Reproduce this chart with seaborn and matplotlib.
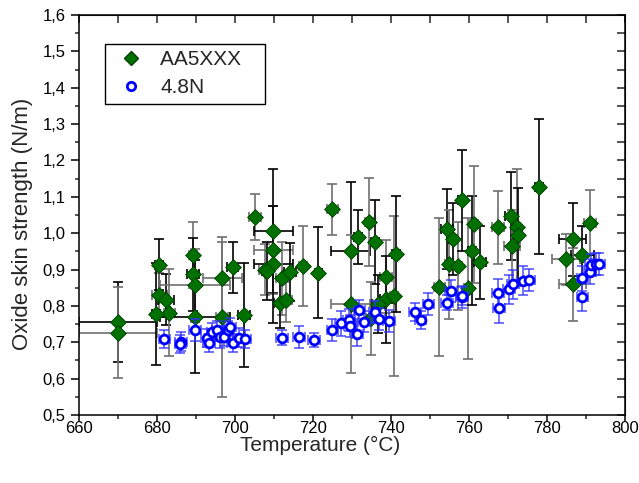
import numpy as np
import matplotlib
matplotlib.use('Agg')
import matplotlib.pyplot as plt
import seaborn as sns
from matplotlib.lines import Line2D
from matplotlib.ticker import MultipleLocator, FuncFormatter

# AA5XXX series: temperature, strength, y error, x error
aa_temp = [670.0, 670.0, 680.5, 680.6, 682.3, 683.2, 679.8, 689.2, 689.3, 689.7,
           689.7, 696.7, 699.4, 696.7, 702.4, 705.1, 709.8, 709.8, 709.8, 707.7,
           708.3, 712.0, 711.5, 713.2, 714.1, 717.5, 721.4, 725.0, 729.7, 729.7,
           731.6, 734.4, 735.9, 738.7, 738.7, 740.8, 741.3, 735.0, 736.7, 752.4,
           754.3, 754.9, 755.8, 757.1, 758.1, 759.8, 760.7, 761.3, 762.8, 767.5,
           770.7, 772.2, 772.6, 771.1, 777.9, 791.0, 786.6, 784.9, 789.1, 786.6]
aa_val = [0.757, 0.726, 0.913, 0.830, 0.817, 0.781, 0.777, 0.940, 0.887, 0.857,
          0.770, 0.876, 0.906, 0.770, 0.775, 1.045, 1.006, 0.954, 0.914, 0.899,
          0.895, 0.876, 0.809, 0.816, 0.894, 0.910, 0.891, 1.066, 0.952, 0.805,
          0.990, 1.031, 0.976, 0.880, 0.818, 0.826, 0.942, 0.766, 0.805, 0.853,
          1.012, 0.915, 0.984, 0.910, 1.090, 0.848, 0.952, 1.024, 0.920, 1.016,
          1.047, 1.016, 0.995, 0.965, 1.128, 1.029, 0.983, 0.928, 0.940, 0.859]
aa_yerr = [0.110, 0.125, 0.070, 0.060, 0.070, 0.120, 0.140, 0.090, 0.100, 0.100,
           0.155, 0.100, 0.070, 0.220, 0.143, 0.063, 0.170, 0.120, 0.160, 0.070,
           0.080, 0.100, 0.070, 0.060, 0.080, 0.110, 0.125, 0.070, 0.190, 0.190,
           0.074, 0.120, 0.115, 0.100, 0.120, 0.220, 0.160, 0.100, 0.080, 0.190,
           0.110, 0.150, 0.100, 0.120, 0.140, 0.195, 0.150, 0.160, 0.100, 0.100,
           0.120, 0.160, 0.130, 0.100, 0.185, 0.090, 0.100, 0.070, 0.080, 0.100]
aa_xerr = [10, 10, 1, 2, 2, 1.5, 1, 1, 1.5, 9,
           9, 5, 1.5, 1.5, 1.5, 1.5, 5, 5, 5, 1.5,
           1.5, 1.5, 1.5, 1.5, 1.5, 1, 1, 1.5, 5, 5,
           1, 1, 1, 1.5, 1.5, 1, 1, 1.5, 1.5, 1.5,
           1.5, 1, 1, 1, 1, 1, 1, 1, 1.5, 1.5,
           1.5, 1, 1, 2, 1, 1.5, 3.5, 3.5, 3, 3.5]

# 4.8N series
n_temp = [681.9, 686.1, 686.0, 689.7, 692.7, 693.3, 694.2, 695.5, 696.2, 697.3,
          698.3, 698.7, 699.4, 701.1, 702.6, 712.0, 716.5, 720.3, 725.0, 727.1,
          729.3, 729.5, 731.4, 731.9, 733.1, 735.8, 737.0, 739.5, 746.2, 747.6,
          749.6, 754.3, 755.3, 758.1, 758.2, 767.5, 767.7, 770.3, 771.2, 773.9,
          775.5, 789.1, 789.1, 791.0, 791.2, 792.6, 793.3]
n_val = [0.708, 0.702, 0.695, 0.734, 0.711, 0.699, 0.729, 0.734, 0.715, 0.715,
         0.734, 0.743, 0.697, 0.713, 0.709, 0.713, 0.715, 0.706, 0.734, 0.752,
         0.761, 0.745, 0.724, 0.790, 0.757, 0.784, 0.763, 0.759, 0.784, 0.761,
         0.805, 0.809, 0.842, 0.824, 0.827, 0.835, 0.793, 0.846, 0.860, 0.869,
         0.871, 0.876, 0.825, 0.894, 0.912, 0.915, 0.915]
n_yerr = [0.025, 0.025, 0.025, 0.030, 0.025, 0.025, 0.025, 0.025, 0.030, 0.025,
          0.025, 0.025, 0.025, 0.025, 0.025, 0.020, 0.030, 0.020, 0.030, 0.035,
          0.030, 0.030, 0.035, 0.025, 0.030, 0.030, 0.030, 0.030, 0.025, 0.025,
          0.030, 0.020, 0.030, 0.030, 0.025, 0.040, 0.040, 0.040, 0.040, 0.040,
          0.030, 0.035, 0.040, 0.035, 0.030, 0.030, 0.030]
n_xerr = [1.5] * len(n_temp)

sns.set_style("ticks")
plt.rcParams['font.family'] = ['Liberation Sans', 'DejaVu Sans']

fig = plt.figure(figsize=(6.39, 4.83), dpi=100)
ax = fig.add_axes([0.1236, 0.1408, 0.8545, 0.8282])

green = '#007000'
blue = '#0000ff'

# error bars for AA5XXX, alternating black / grey like the original
for i in range(len(aa_temp)):
    c = 'black' if i % 2 == 0 else '#707070'
    ax.errorbar(aa_temp[i], aa_val[i], yerr=aa_yerr[i], xerr=aa_xerr[i], fmt='none',
                ecolor=c, elinewidth=1.2, capsize=3.5, capthick=1.2, zorder=2)
sns.scatterplot(x=aa_temp, y=aa_val, marker='D', color=green, edgecolor='#004000',
                linewidth=0.6, s=65, ax=ax, zorder=3)

ax.errorbar(n_temp, n_val, yerr=n_yerr, xerr=n_xerr, fmt='none', ecolor='#3030ff',
            elinewidth=1.2, capsize=3.5, capthick=1.2, alpha=0.8, zorder=4)
sns.scatterplot(x=n_temp, y=n_val, marker='o', facecolor='white', edgecolor=blue,
                linewidth=2, s=40, ax=ax, zorder=5)

ax.set_xlim(660, 800)
ax.set_ylim(0.5, 1.6)
ax.xaxis.set_major_locator(MultipleLocator(20))
ax.xaxis.set_minor_locator(MultipleLocator(10))
ax.yaxis.set_major_locator(MultipleLocator(0.1))
ax.yaxis.set_minor_locator(MultipleLocator(0.05))
ax.yaxis.set_major_formatter(FuncFormatter(lambda v, p: f'{v:.1f}'.replace('.', ',')))
ax.tick_params(axis='both', which='major', direction='out', length=6, width=1.1,
               labelsize=12, colors='black')
ax.tick_params(axis='x', which='major', length=5, pad=-0.8)
ax.tick_params(axis='both', which='minor', direction='out', length=3, width=1.1)

for s in ax.spines.values():
    s.set_visible(True)
    s.set_linewidth(1.1)
    s.set_color('black')

top = ax.secondary_xaxis('top')
top.xaxis.set_major_locator(MultipleLocator(10))
top.tick_params(direction='in', length=5.5, width=1.1, labeltop=False)
right = ax.secondary_yaxis('right')
right.yaxis.set_major_locator(MultipleLocator(0.05))
right.tick_params(direction='in', length=5.5, width=1.1, labelright=False)

ax.set_xlabel('Temperature (°C)', fontsize=15)
ax.set_ylabel('Oxide skin strength (N/m)', fontsize=16)
ax.xaxis.set_label_coords(0.441, -0.052)
ax.yaxis.set_label_coords(-0.084, 0.4775)

handles = [Line2D([], [], marker='D', color=green, markeredgecolor='#004000',
                  linestyle='none', markersize=7),
           Line2D([], [], marker='o', color=blue, markerfacecolor='white',
                  markeredgewidth=2, linestyle='none', markersize=6)]
ax.legend(handles, ['AA5XXX   ', '4.8N'], loc='upper left', bbox_to_anchor=(0.048, 0.928),
          borderaxespad=0, fontsize=15, frameon=True, fancybox=False, framealpha=1,
          edgecolor='black', handletextpad=0.45, borderpad=0.3, labelspacing=0.45,
          handlelength=1.9)

plt.savefig('out.png', dpi=100)
